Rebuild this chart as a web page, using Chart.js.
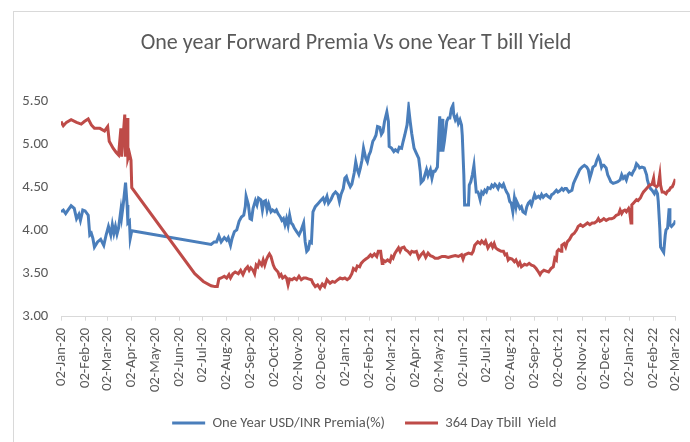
<!DOCTYPE html>
<html>
<head>
<meta charset="utf-8">
<title>One year Forward Premia Vs one Year T bill Yield</title>
<script src="https://cdn.jsdelivr.net/npm/chart.js@4.4.1/dist/chart.umd.min.js"></script>
<style>
  html, body { margin: 0; padding: 0; background: #fff; overflow: hidden; width: 690px; height: 442px; }
  #frame { position: absolute; left: 13px; top: 11px; width: 700px; height: 460px; border: 1px solid #d9d9d9; }
  #chart { position: absolute; left: 14px; top: 12px; }
</style>
</head>
<body>
<div id="frame"></div>
<canvas id="chart" width="686" height="440" style="width:686px;height:440px"></canvas>
<script>
// x axis tick labels (monthly)
const tickLabels = [
  '02-Jan-20', '02-Feb-20', '02-Mar-20', '02-Apr-20', '02-May-20', '02-Jun-20', '02-Jul-20',
  '02-Aug-20', '02-Sep-20', '02-Oct-20', '02-Nov-20', '02-Dec-20', '02-Jan-21', '02-Feb-21',
  '02-Mar-21', '02-Apr-21', '02-May-21', '02-Jun-21', '02-Jul-21', '02-Aug-21', '02-Sep-21',
  '02-Oct-21', '02-Nov-21', '02-Dec-21', '02-Jan-22', '02-Feb-22', '02-Mar-22'
];
const yTicks = [3.00, 3.50, 4.00, 4.50, 5.00, 5.50];

const seriesNames = ['One Year USD/INR Premia(%)', '364 Day Tbill  Yield'];

// One Year USD/INR forward premia (%)
const premiaDates = [
  '2020-01-02','2020-01-05','2020-01-08','2020-01-11','2020-01-15','2020-01-19','2020-01-22','2020-01-25','2020-01-27','2020-01-30',
  '2020-02-02','2020-02-06','2020-02-08','2020-02-10','2020-02-12','2020-02-14','2020-02-18','2020-02-22','2020-02-26','2020-02-29',
  '2020-03-03','2020-03-06','2020-03-08','2020-03-10','2020-03-12','2020-03-14','2020-03-16','2020-03-19','2020-03-20','2020-03-22',
  '2020-03-25','2020-03-27','2020-03-28','2020-03-30','2020-03-31','2020-04-02',
  '2020-07-13','2020-07-17','2020-07-20','2020-07-23','2020-07-26','2020-07-30','2020-08-02','2020-08-04','2020-08-07','2020-08-09',
  '2020-08-12','2020-08-15','2020-08-18','2020-08-21','2020-08-24','2020-08-26','2020-08-27','2020-08-30','2020-09-01','2020-09-03',
  '2020-09-05','2020-09-08','2020-09-10','2020-09-12','2020-09-15','2020-09-17','2020-09-19','2020-09-21','2020-09-23','2020-09-25',
  '2020-09-28','2020-09-30','2020-10-03','2020-10-05','2020-10-07','2020-10-10','2020-10-12','2020-10-14','2020-10-16','2020-10-18',
  '2020-10-20','2020-10-22','2020-10-24','2020-10-26','2020-10-28','2020-10-31','2020-11-03','2020-11-06','2020-11-09','2020-11-11',
  '2020-11-13','2020-11-15','2020-11-17','2020-11-19','2020-11-21','2020-11-24','2020-11-28','2020-12-01','2020-12-04','2020-12-06',
  '2020-12-09','2020-12-11','2020-12-14','2020-12-17','2020-12-20','2020-12-23','2020-12-25','2020-12-27','2020-12-30',
  '2021-01-01','2021-01-03','2021-01-05','2021-01-08','2021-01-10','2021-01-13','2021-01-15','2021-01-17','2021-01-19','2021-01-21',
  '2021-01-23','2021-01-25','2021-01-28','2021-01-30','2021-02-01','2021-02-03','2021-02-06','2021-02-08','2021-02-10','2021-02-12',
  '2021-02-15','2021-02-17','2021-02-19','2021-02-21','2021-02-24','2021-02-26','2021-02-27','2021-03-02','2021-03-05','2021-03-07',
  '2021-03-10','2021-03-12','2021-03-15','2021-03-17','2021-03-19','2021-03-22','2021-03-24','2021-03-26','2021-03-28','2021-03-31',
  '2021-04-03','2021-04-06','2021-04-08','2021-04-09','2021-04-12','2021-04-14','2021-04-16','2021-04-18','2021-04-21','2021-04-23',
  '2021-04-25','2021-04-27','2021-04-30','2021-05-02','2021-05-03','2021-05-04','2021-05-06','2021-05-07','2021-05-09','2021-05-11',
  '2021-05-12','2021-05-14','2021-05-16','2021-05-18','2021-05-20','2021-05-21','2021-05-23','2021-05-25','2021-05-27','2021-05-29',
  '2021-05-31','2021-06-01','2021-06-03','2021-06-04','2021-06-07','2021-06-09','2021-06-10','2021-06-12','2021-06-14','2021-06-16',
  '2021-06-17','2021-06-19','2021-06-21','2021-06-22','2021-06-24','2021-06-26','2021-06-28','2021-06-30','2021-07-02','2021-07-04',
  '2021-07-07','2021-07-09','2021-07-11','2021-07-13','2021-07-15','2021-07-17','2021-07-19','2021-07-22','2021-07-24','2021-07-26',
  '2021-07-28','2021-07-30','2021-08-01','2021-08-03','2021-08-05','2021-08-07','2021-08-09','2021-08-10','2021-08-12','2021-08-14',
  '2021-08-16','2021-08-18','2021-08-21','2021-08-23','2021-08-25','2021-08-27','2021-08-29','2021-08-31','2021-09-02','2021-09-04',
  '2021-09-07','2021-09-09','2021-09-11','2021-09-13','2021-09-15','2021-09-17','2021-09-19','2021-09-22','2021-09-24','2021-09-26',
  '2021-09-28','2021-09-30','2021-10-02','2021-10-04','2021-10-07','2021-10-09','2021-10-11','2021-10-13','2021-10-16','2021-10-20',
  '2021-10-22','2021-10-24','2021-10-27','2021-10-30','2021-11-02','2021-11-05','2021-11-08','2021-11-10','2021-11-12','2021-11-14',
  '2021-11-16','2021-11-19','2021-11-21','2021-11-23','2021-11-25','2021-11-27','2021-11-28','2021-11-30','2021-12-03','2021-12-05',
  '2021-12-07','2021-12-09','2021-12-12','2021-12-15','2021-12-18','2021-12-21','2021-12-23','2021-12-25','2021-12-27','2021-12-29',
  '2021-12-31','2022-01-02','2022-01-05','2022-01-07','2022-01-09','2022-01-11','2022-01-13','2022-01-15','2022-01-18','2022-01-21',
  '2022-01-24','2022-01-25','2022-01-27','2022-01-29','2022-01-31','2022-02-03','2022-02-05','2022-02-07','2022-02-08','2022-02-10',
  '2022-02-11','2022-02-13','2022-02-15','2022-02-17','2022-02-18','2022-02-20','2022-02-22','2022-02-23','2022-02-25','2022-02-27',
  '2022-03-01','2022-03-02'
];
const premiaValues = [
  4.22,4.24,4.20,4.24,4.29,4.26,4.14,4.19,4.12,4.24,
  4.23,4.18,3.95,3.97,3.91,3.81,3.87,3.90,3.83,3.95,
  4.05,3.95,4.07,3.97,4.05,3.96,4.03,4.24,4.16,4.30,
  4.56,4.30,4.09,4.11,3.91,4.00,
  3.84,3.87,3.87,3.94,3.87,3.92,3.89,3.92,3.83,3.91,
  3.99,4.01,4.11,4.16,4.18,4.28,4.40,4.30,4.14,4.13,
  4.26,4.35,4.30,4.38,4.36,4.24,4.34,4.35,4.24,4.31,
  4.22,4.24,4.22,4.24,4.20,4.16,4.12,4.14,4.07,4.14,
  4.06,4.18,4.09,4.07,4.03,3.99,3.95,4.01,4.09,3.87,
  3.76,3.78,3.87,3.86,4.22,4.28,4.32,4.35,4.38,4.33,
  4.40,4.32,4.36,4.42,4.45,4.42,4.34,4.42,4.49,
  4.61,4.63,4.57,4.51,4.54,4.67,4.80,4.71,4.66,4.73,
  4.82,4.96,4.84,4.80,4.88,4.92,5.04,5.07,5.11,5.21,
  5.20,5.12,5.15,5.27,5.38,5.27,4.98,4.96,4.92,4.94,
  4.92,4.97,4.96,5.04,5.11,5.23,5.43,5.27,5.13,4.96,
  4.90,4.84,4.69,4.56,4.59,4.65,4.71,4.64,4.71,4.61,
  4.69,4.69,4.74,5.15,5.33,4.92,5.30,4.92,5.04,5.19,
  5.27,5.31,5.31,5.42,5.46,5.35,5.29,5.33,5.25,5.29,
  5.23,5.11,4.65,4.30,4.30,4.30,4.53,4.57,4.65,4.76,
  4.65,4.45,4.45,4.43,4.36,4.45,4.43,4.47,4.45,4.50,
  4.49,4.53,4.51,4.54,4.52,4.49,4.54,4.51,4.54,4.49,
  4.45,4.42,4.34,4.32,4.22,4.38,4.28,4.34,4.30,4.26,
  4.28,4.22,4.20,4.28,4.32,4.34,4.30,4.36,4.42,4.38,
  4.40,4.38,4.42,4.39,4.41,4.42,4.40,4.38,4.42,4.43,
  4.45,4.47,4.45,4.46,4.49,4.47,4.49,4.49,4.45,4.47,
  4.55,4.59,4.65,4.71,4.74,4.76,4.74,4.71,4.61,4.67,
  4.74,4.76,4.82,4.86,4.82,4.74,4.76,4.76,4.73,4.65,
  4.61,4.57,4.55,4.56,4.57,4.59,4.65,4.61,4.63,4.59,
  4.65,4.67,4.65,4.69,4.72,4.78,4.76,4.73,4.74,4.73,
  4.65,4.59,4.53,4.49,4.47,4.43,4.47,4.43,4.34,4.03,
  3.81,3.78,3.75,3.95,4.01,4.03,4.26,4.07,4.05,4.07,
  4.09,4.12
];

// 364 Day T-bill yield (%)
const tbillDates = [
  '2020-01-02','2020-01-05','2020-01-09','2020-01-15','2020-01-22','2020-01-28','2020-02-01','2020-02-06','2020-02-10','2020-02-14',
  '2020-02-21','2020-02-27','2020-03-02','2020-03-04','2020-03-09','2020-03-13','2020-03-16','2020-03-19','2020-03-20','2020-03-22',
  '2020-03-24','2020-03-25','2020-03-27','2020-03-28','2020-03-30','2020-04-01','2020-04-02',
  '2020-06-22','2020-07-03','2020-07-13','2020-07-18','2020-07-21','2020-07-23','2020-07-26','2020-07-30','2020-08-02','2020-08-05',
  '2020-08-07','2020-08-10','2020-08-13','2020-08-17','2020-08-20','2020-08-23','2020-08-26','2020-08-29','2020-08-31','2020-09-02',
  '2020-09-05','2020-09-07','2020-09-09','2020-09-11','2020-09-13','2020-09-16','2020-09-18','2020-09-20','2020-09-22','2020-09-24',
  '2020-09-26','2020-09-28','2020-10-01','2020-10-03','2020-10-05','2020-10-07','2020-10-09','2020-10-11','2020-10-13','2020-10-16',
  '2020-10-18','2020-10-20','2020-10-22','2020-10-25','2020-10-28','2020-10-31','2020-11-03','2020-11-06','2020-11-09','2020-11-12',
  '2020-11-15','2020-11-19','2020-11-21','2020-11-24','2020-11-27','2020-11-30','2020-12-03','2020-12-06','2020-12-09','2020-12-13',
  '2020-12-16','2020-12-19','2020-12-23','2020-12-26','2020-12-29','2021-01-01','2021-01-04','2021-01-07','2021-01-10','2021-01-12',
  '2021-01-15','2021-01-17','2021-01-20','2021-01-22','2021-01-25','2021-01-28','2021-01-31','2021-02-03','2021-02-05','2021-02-08',
  '2021-02-11','2021-02-13','2021-02-16','2021-02-18','2021-02-19','2021-02-22','2021-02-25','2021-02-28','2021-03-02','2021-03-04',
  '2021-03-06','2021-03-08','2021-03-11','2021-03-13','2021-03-15','2021-03-18','2021-03-20','2021-03-23','2021-03-26','2021-03-28',
  '2021-03-31','2021-04-03','2021-04-06','2021-04-09','2021-04-12','2021-04-15','2021-04-18','2021-04-21','2021-04-24','2021-04-27',
  '2021-05-01','2021-05-06','2021-05-10','2021-05-14','2021-05-18','2021-05-23','2021-05-27','2021-05-31','2021-06-02','2021-06-04',
  '2021-06-09','2021-06-13','2021-06-15','2021-06-17','2021-06-21','2021-06-24','2021-06-26','2021-06-29','2021-07-01','2021-07-04',
  '2021-07-06','2021-07-08','2021-07-10','2021-07-12','2021-07-14','2021-07-17','2021-07-21','2021-07-24','2021-07-26','2021-07-28',
  '2021-07-30','2021-08-01','2021-08-04','2021-08-07','2021-08-09','2021-08-12','2021-08-14','2021-08-16','2021-08-20','2021-08-23',
  '2021-08-26','2021-08-29','2021-09-01','2021-09-04','2021-09-07','2021-09-09','2021-09-11','2021-09-14','2021-09-17','2021-09-20',
  '2021-09-23','2021-09-26','2021-09-28','2021-09-30','2021-10-01','2021-10-03','2021-10-06','2021-10-07','2021-10-10','2021-10-12',
  '2021-10-14','2021-10-17','2021-10-20','2021-10-23','2021-10-26','2021-10-28','2021-10-31','2021-11-03','2021-11-06','2021-11-09',
  '2021-11-12','2021-11-15','2021-11-18','2021-11-21','2021-11-23','2021-11-25','2021-11-27','2021-11-30','2021-12-03','2021-12-07',
  '2021-12-10','2021-12-13','2021-12-16','2021-12-19','2021-12-21','2021-12-23','2021-12-25','2021-12-27','2021-12-29','2022-01-01',
  '2022-01-02','2022-01-04','2022-01-05','2022-01-07','2022-01-09','2022-01-11','2022-01-13','2022-01-16','2022-01-18','2022-01-20',
  '2022-01-22','2022-01-24','2022-01-26','2022-01-28','2022-01-31','2022-02-02','2022-02-03','2022-02-06','2022-02-08','2022-02-10',
  '2022-02-11','2022-02-13','2022-02-15','2022-02-18','2022-02-20','2022-02-22','2022-02-24','2022-02-26','2022-02-28','2022-03-02'
];
const tbillValues = [
  5.27,5.22,5.26,5.29,5.26,5.24,5.27,5.30,5.23,5.19,
  5.19,5.16,5.21,5.04,4.96,4.91,4.88,5.19,4.86,5.11,
  5.35,4.86,5.31,4.84,4.90,4.82,4.50,
  3.50,3.41,3.36,3.35,3.35,3.44,3.45,3.47,3.45,3.49,
  3.45,3.50,3.52,3.50,3.54,3.49,3.55,3.58,3.54,3.57,
  3.54,3.50,3.60,3.58,3.64,3.60,3.66,3.60,3.66,3.70,
  3.73,3.70,3.60,3.56,3.54,3.52,3.47,3.49,3.45,3.47,
  3.45,3.37,3.44,3.43,3.45,3.43,3.47,3.43,3.45,3.45,
  3.44,3.43,3.39,3.35,3.37,3.33,3.38,3.35,3.43,3.39,
  3.41,3.40,3.43,3.45,3.44,3.45,3.43,3.45,3.50,3.56,
  3.54,3.59,3.58,3.62,3.65,3.67,3.69,3.72,3.70,3.73,
  3.70,3.76,3.76,3.62,3.66,3.64,3.66,3.64,3.70,3.68,
  3.73,3.76,3.80,3.76,3.80,3.81,3.78,3.76,3.73,3.76,
  3.75,3.76,3.68,3.72,3.75,3.69,3.74,3.71,3.70,3.68,
  3.68,3.70,3.70,3.69,3.70,3.71,3.70,3.72,3.67,3.72,
  3.74,3.73,3.76,3.83,3.87,3.85,3.88,3.85,3.88,3.80,
  3.83,3.85,3.81,3.85,3.80,3.78,3.76,3.76,3.72,3.73,
  3.66,3.68,3.67,3.64,3.66,3.60,3.63,3.58,3.61,3.60,
  3.62,3.60,3.59,3.56,3.52,3.49,3.52,3.54,3.53,3.52,
  3.56,3.58,3.68,3.66,3.76,3.78,3.76,3.83,3.85,3.81,
  3.87,3.90,3.95,3.97,4.01,4.05,4.07,4.05,4.07,4.09,
  4.07,4.09,4.09,4.11,4.14,4.11,4.12,4.14,4.12,4.14,
  4.14,4.15,4.18,4.19,4.24,4.20,4.23,4.24,4.22,4.26,
  4.24,4.09,4.30,4.32,4.34,4.36,4.35,4.38,4.42,4.45,
  4.47,4.49,4.51,4.53,4.54,4.61,4.53,4.51,4.53,4.65,
  4.53,4.45,4.45,4.43,4.46,4.47,4.50,4.51,4.55,4.60
];

const BLUE = '#4a7ebb';
const RED = '#be4b48';
const TEXT = '#595959';
const FONT = 'Carlito, Lato, "Liberation Sans", sans-serif';

// days since the first date of the axis
const origin = Date.UTC(2020, 0, 2);
function dayOf(iso) {
  const p = iso.split('-').map(Number);
  return (Date.UTC(p[0], p[1] - 1, p[2]) - origin) / 86400000;
}
const MONTHS = ['Jan','Feb','Mar','Apr','May','Jun','Jul','Aug','Sep','Oct','Nov','Dec'];
function dayOfLabel(lbl) {
  const p = lbl.split('-');
  return (Date.UTC(2000 + Number(p[2]), MONTHS.indexOf(p[1]), Number(p[0])) - origin) / 86400000;
}
const tickDays = tickLabels.map(dayOfLabel);

function toPoints(dates, values) {
  return dates.map((d, i) => ({ x: dayOf(d), y: values[i] }));
}

// the Excel chart object is wider than the visible crop, so title and legend
// are centred a little to the right of the plot
const shiftBlocks = {
  id: 'shiftBlocks',
  afterLayout(c) {
    c.titleBlock.left += 10.75;
    c.titleBlock.right += 10.75;
    c.legend.left += 19;
    c.legend.right += 19;
  }
};

const ctx = document.getElementById('chart').getContext('2d');
const chart = new Chart(ctx, {
  type: 'line',
  data: {
    datasets: [{
      label: seriesNames[0],
      data: toPoints(premiaDates, premiaValues),
      borderColor: BLUE,
      backgroundColor: BLUE,
      borderWidth: 3,
      pointRadius: 0,
      order: 1
    }, {
      label: seriesNames[1],
      data: toPoints(tbillDates, tbillValues),
      borderColor: RED,
      backgroundColor: RED,
      borderWidth: 3,
      pointRadius: 0,
      order: 0
    }]
  },
  options: {
    responsive: false,
    animation: false,
    devicePixelRatio: 1,
    layout: {
      padding: { left: 0, right: 23.5, top: 0, bottom: 11.7 }
    },
    plugins: {
      title: {
        display: true,
        text: 'One year Forward Premia Vs one Year T bill Yield',
        color: TEXT,
        font: { family: FONT, size: 22, weight: 'normal', lineHeight: 1.2 },
        padding: { top: 17.8, bottom: 45.5 }
      },
      legend: {
        position: 'bottom',
        labels: {
          color: TEXT,
          font: { family: FONT, size: 14.6 },
          boxWidth: 33,
          boxHeight: 3,
          padding: 20,
          sort: (a, b) => a.datasetIndex - b.datasetIndex,
          generateLabels: (c) => Chart.defaults.plugins.legend.labels.generateLabels(c)
            .map(item => Object.assign(item, { lineWidth: 0 }))
        }
      },
      tooltip: { enabled: false }
    },
    scales: {
      x: {
        type: 'linear',
        min: tickDays[0],
        max: tickDays[tickDays.length - 1],
        afterBuildTicks: (scale) => {
          scale.ticks = tickDays.map(v => ({ value: v }));
        },
        afterFit: (scale) => { scale.height = 79; },
        ticks: {
          autoSkip: false,
          minRotation: 90,
          maxRotation: 90,
          padding: 7,
          color: TEXT,
          font: { family: FONT, size: 14.7 },
          callback: (value, index) => tickLabels[index]
        },
        grid: {
          display: true,
          drawOnChartArea: false,
          drawTicks: true,
          tickLength: 4,
          color: '#d9d9d9'
        },
        border: { display: true, color: '#d9d9d9', width: 1 }
      },
      y: {
        min: yTicks[0],
        max: yTicks[yTicks.length - 1],
        afterBuildTicks: (scale) => {
          scale.ticks = yTicks.map(v => ({ value: v }));
        },
        afterFit: (scale) => { scale.width = 47; },
        ticks: {
          padding: 12.7,
          color: TEXT,
          font: { family: FONT, size: 14.7 },
          callback: (value) => value.toFixed(2)
        },
        grid: { display: false, drawTicks: false },
        border: { display: false }
      }
    }
  },
  plugins: [shiftBlocks]
});
</script>
</body>
</html>
